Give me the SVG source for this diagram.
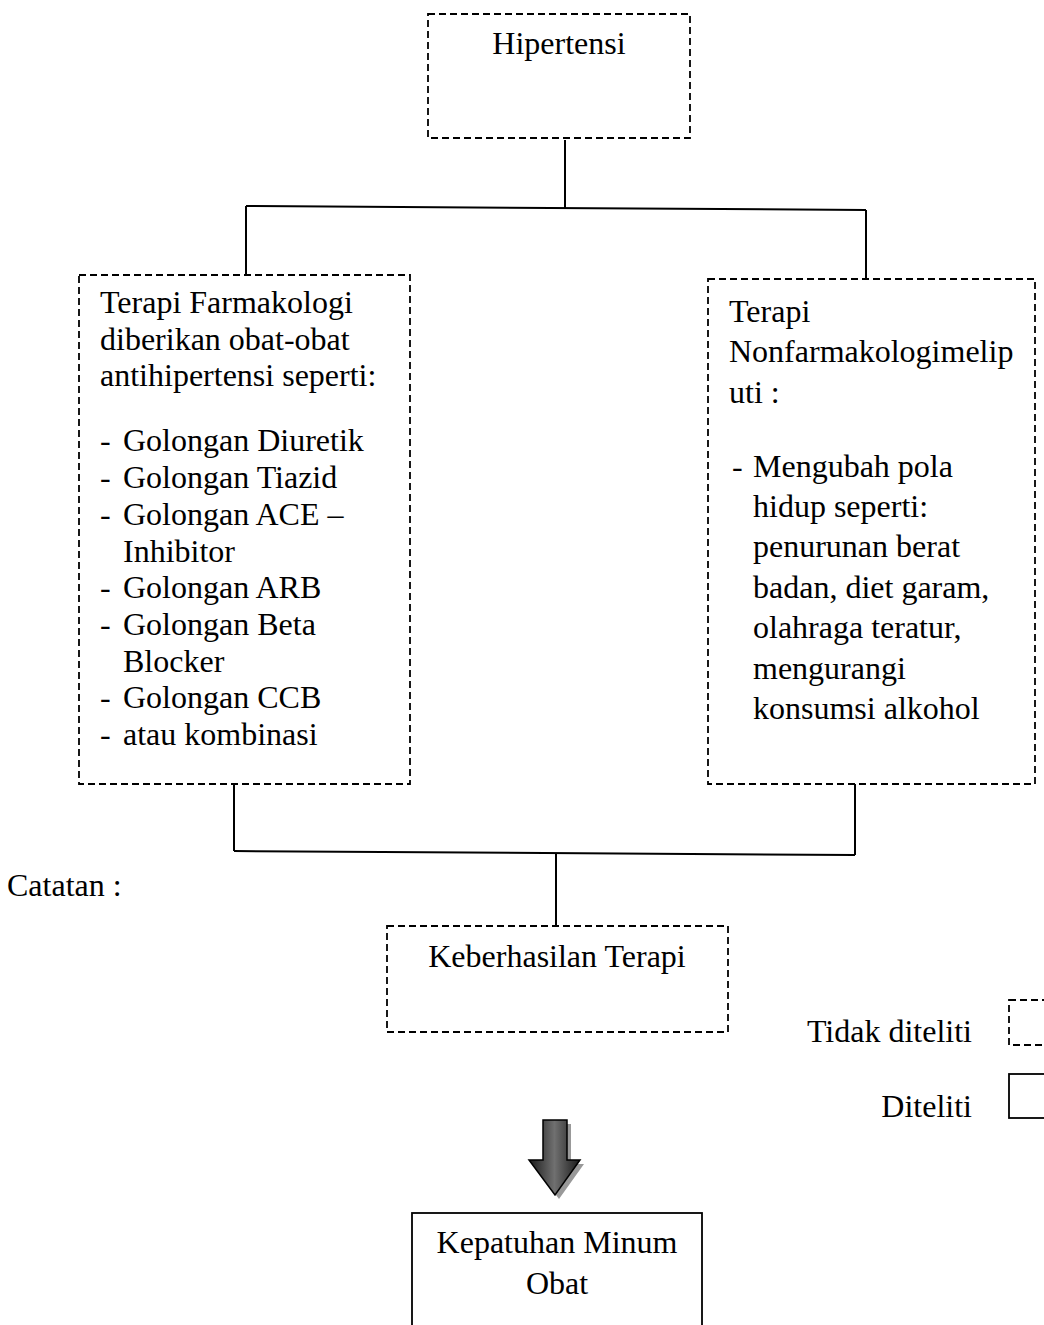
<svg xmlns="http://www.w3.org/2000/svg" width="1044" height="1325" viewBox="0 0 1044 1325">
<defs>
<style>
text{font-family:"Liberation Serif","Times New Roman",serif;font-size:32px;fill:#000}
.c{text-anchor:middle}
.dash{fill:none;stroke:#000;stroke-width:1.8;stroke-dasharray:7 4}
.solid{fill:none;stroke:#000;stroke-width:1.8}
.conn{fill:none;stroke:#000;stroke-width:2}
</style>
<linearGradient id="ag" x1="0" y1="0" x2="1" y2="0">
<stop offset="0" stop-color="#1a1a1a"/>
<stop offset="0.5" stop-color="#707070"/>
<stop offset="1" stop-color="#1a1a1a"/>
</linearGradient>
</defs>
<rect width="1044" height="1325" fill="#fff"/>

<g id="connectors">
<line class="conn" x1="565" y1="140" x2="565" y2="208"/>
<line class="conn" x1="246" y1="206" x2="866" y2="210"/>
<line class="conn" x1="246" y1="206" x2="246" y2="275"/>
<line class="conn" x1="866" y1="210" x2="866" y2="279"/>
<line class="conn" x1="234" y1="784" x2="234" y2="851"/>
<line class="conn" x1="855" y1="784" x2="855" y2="855"/>
<line class="conn" x1="234" y1="851" x2="855" y2="855"/>
<line class="conn" x1="556" y1="853" x2="556" y2="925"/>
</g>

<g id="hipertensi">
<rect class="dash" x="428" y="14" width="262" height="124"/>
<text class="c" x="559" y="54">Hipertensi</text>
</g>

<g id="farmakologi">
<rect class="dash" x="79" y="275" width="331" height="509"/>
<text x="100" y="313">Terapi Farmakologi</text>
<text x="100" y="350">diberikan obat-obat</text>
<text x="100" y="386">antihipertensi seperti:</text>
<text x="100" y="451">-</text><text x="123" y="451">Golongan Diuretik</text>
<text x="100" y="488">-</text><text x="123" y="488">Golongan Tiazid</text>
<text x="100" y="525">-</text><text x="123" y="525">Golongan ACE –</text>
<text x="123" y="562">Inhibitor</text>
<text x="100" y="598">-</text><text x="123" y="598">Golongan ARB</text>
<text x="100" y="635">-</text><text x="123" y="635">Golongan Beta</text>
<text x="123" y="672">Blocker</text>
<text x="100" y="708">-</text><text x="123" y="708">Golongan CCB</text>
<text x="100" y="745">-</text><text x="123" y="745">atau kombinasi</text>
</g>

<g id="nonfarmakologi">
<rect class="dash" x="708" y="279" width="327" height="505"/>
<text x="729" y="322">Terapi</text>
<text x="729" y="362">Nonfarmakologimelip</text>
<text x="729" y="403">uti :</text>
<text x="732" y="477">-</text><text x="753" y="477">Mengubah pola</text>
<text x="753" y="517">hidup seperti:</text>
<text x="753" y="557">penurunan berat</text>
<text x="753" y="598">badan, diet garam,</text>
<text x="753" y="638">olahraga teratur,</text>
<text x="753" y="679">mengurangi</text>
<text x="753" y="719">konsumsi alkohol</text>
</g>

<g id="catatan">
<text x="7" y="896">Catatan :</text>
</g>

<g id="keberhasilan">
<rect class="dash" x="387" y="926" width="341" height="106"/>
<text class="c" x="557" y="967">Keberhasilan Terapi</text>
</g>

<g id="legend">
<text x="972" y="1042" text-anchor="end">Tidak diteliti</text>
<rect class="dash" x="1009" y="1000" width="60" height="45"/>
<text x="972" y="1117" text-anchor="end">Diteliti</text>
<rect class="solid" x="1009" y="1074" width="60" height="44"/>
</g>

<g id="arrow">
<path d="M547 1124 H571 V1164 H584 L559 1199 L533 1164 H547 Z" fill="#999"/>
<path d="M543 1120 H567 V1160 H580 L555 1195 L529 1160 H543 Z" fill="url(#ag)" stroke="#000" stroke-width="1.5"/>
</g>

<g id="kepatuhan">
<rect class="solid" x="412" y="1213" width="290" height="130" stroke-width="2"/>
<text class="c" x="557" y="1253">Kepatuhan Minum</text>
<text class="c" x="557" y="1294">Obat</text>
</g>
</svg>
